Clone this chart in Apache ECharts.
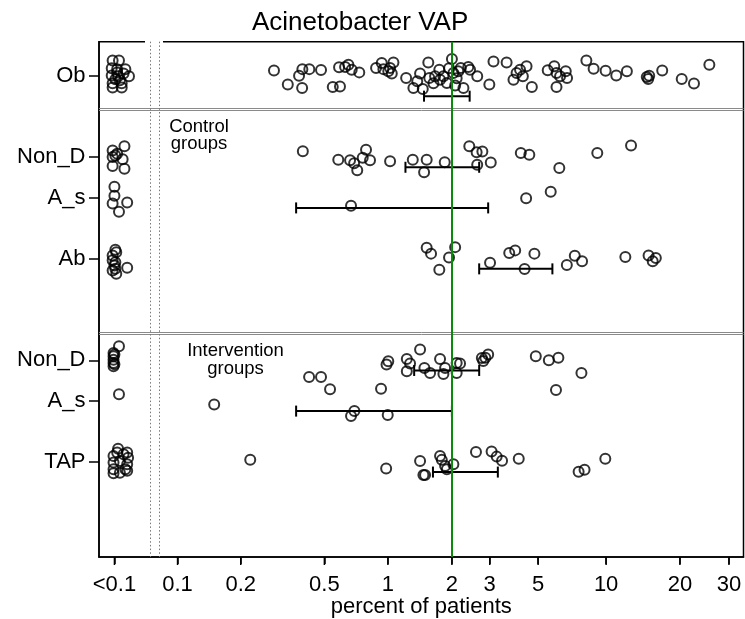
<!DOCTYPE html>
<html><head><meta charset="utf-8">
<script src="https://cdn.jsdelivr.net/npm/echarts@6/dist/echarts.min.js"></script>
<style>html,body{margin:0;padding:0;background:#fff}#c{width:745px;height:619px}</style>
</head><body><div id="c"></div>
<script>
// ---- rows (categories) ----
const rowNames = ['Ob','Non_D','A_s','Ab','Non_D','A_s','TAP'];
const rowPos = [0,4,6,9,14,16,19];

// ---- x axis ticks (percent of patients, logit scale) ----
const xTickPct = [0.05,0.1,0.2,0.5,1,2,3,5,10,20,30];
const xTickLabels = ['<0.1','0.1','0.2','0.5','1','2','3','5','10','20','30'];
const xRangePct = [0.0422, 33.46];
const yRange = [-1.68, 23.68];
const refPct = 2;               // green reference line
const breakPct = [0.074, 0.082]; // axis-break dotted lines
const zeroPct = 0.05;           // where "<0.1" (zero) values are drawn
const panelBreaks = [1.60, 1.70, 12.61, 12.71];

// ---- observed values: [percent, vertical jitter] ----
const obPts = [[0.288,-0.26],[0.335,0.43],[0.379,0.0],[0.393,-0.33],[0.392,0.60],[0.424,-0.33],[0.482,-0.29],[0.587,-0.42],[0.548,0.55],[0.593,0.52],
 [0.627,-0.43],[0.650,-0.55],[0.674,-0.30],[0.732,-0.17],[0.879,-0.38],[0.935,-0.63],[0.952,-0.33],[1.024,-0.38],[1.062,-0.66],[1.043,-0.11],[1.004,-0.22],
 [1.219,0.11],[1.319,0.60],[1.418,-0.11],[1.460,0.65],[1.550,-0.66],[1.567,0.11],[1.668,0.02],[1.746,-0.30],[1.760,0.19],[1.825,0.02],[1.894,0.35],
 [2.00,-0.83],[2.032,-0.14],[2.071,0.48],[2.142,-0.22],[2.200,-0.38],[2.264,0.60],[2.385,-0.43],[2.431,-0.30],[2.625,0.02],[2.987,0.43],[3.122,-0.71],
 [3.589,-0.66],[3.860,0.19],[3.988,-0.14],[4.137,-0.30],[4.430,-0.47],[4.261,0.02],[4.683,0.55],
 [5.525,-0.27],[5.915,-0.47],[6.051,-0.14],[6.277,0.02],[6.656,-0.22],[6.746,0.11],[6.051,0.55],[8.21,-0.76],[8.83,-0.35],[9.95,-0.25],[11.05,-0.02],[12.25,-0.22],
 [14.80,0.06],[15.14,-0.01],[15.0,0.16],[17.07,-0.26],[20.32,0.16],[22.59,0.38],[25.68,-0.55],
 [1.375,0.27],[1.638,0.37],[1.94,-0.37],[2.105,0.12]];
const ctrlNonDPts = [[0.395,-0.29],[0.582,0.13],[0.662,0.16],[0.692,0.30],[0.716,0.65],[0.760,0.03],[0.788,-0.36],[0.823,0.16],[1.024,0.20],[1.310,0.13],[1.523,0.13],[1.481,0.75],
 [1.851,0.25],[2.411,-0.54],[2.608,-0.24],[2.773,-0.28],[2.624,0.37],[3.033,0.26],[4.17,-0.20],[4.56,-0.12],[6.23,0.54],[9.16,-0.20],[12.75,-0.57]];
const ctrlAsPts = [[0.669,0.39],[4.41,0.03],[5.70,-0.29]];
const ctrlAbPts = [[1.523,-0.54],[1.597,-0.25],[2.071,-0.57],[1.939,-0.06],[1.746,0.54],[3.010,0.20],[3.69,-0.28],[3.93,-0.41],[4.81,-0.25],[4.34,0.51],
 [7.30,-0.15],[7.86,0.12],[6.73,0.31],[12.07,-0.08],[15.05,-0.16],[16.10,-0.03],[15.64,0.12]];
const intNonDPts = [[1.418,-0.53],[1.004,0.05],[0.985,0.21],[1.228,-0.06],[1.272,0.16],[1.228,0.54],[1.486,0.38],[1.580,0.62],[1.760,-0.06],[1.859,0.38],[1.825,0.67],
 [2.105,0.13],[2.183,0.16],[2.105,0.62],[2.757,-0.11],[2.862,-0.13],[2.95,-0.29],[2.80,0.03],[4.88,-0.20],[5.59,0.0],[6.17,-0.13],[7.81,0.62],[0.423,0.82],[0.482,0.82]];
const intAsPts = [[0.532,-0.58],[0.928,-0.60],[6.02,-0.54],[0.1495,0.18],[0.694,0.49],[0.669,0.74],[0.998,0.69]];
const tapPts = [[0.222,-0.11],[0.981,0.33],[1.418,-0.05],[1.760,-0.29],[1.793,-0.10],[1.859,0.20],[1.894,0.36],[2.032,0.11],[1.470,0.65],[1.497,0.65],
 [2.59,-0.49],[3.06,-0.51],[3.23,-0.26],[3.42,-0.06],[4.08,-0.16],[9.92,-0.16],[7.59,0.48],[8.06,0.39]];

// ---- zero values (<0.1): [horizontal jitter, vertical jitter] ----
const obZero = [[-0.02,-0.76],[0.05,-0.76],[-0.03,-0.37],[0.03,-0.32],[0.12,-0.32],[0.16,0.02],[-0.03,-0.02],[0.04,0.02],[-0.02,0.37],[0.08,0.37],[-0.02,0.57],[0.08,0.57],[0.01,0.17],[0.10,-0.12],[0.03,-0.17],[0.06,0.22]];
const ctrlNonDZero = [[-0.02,-0.33],[0.01,-0.08],[0.11,-0.53],[-0.02,0],[0.09,0.11],[-0.02,0.44],[0.11,0.57],[0.03,-0.17]];
const ctrlAsZero = [[0,-0.54],[0,-0.10],[-0.02,0.28],[0.14,0.23],[0.05,0.69]];
const ctrlAbZero = [[0.01,-0.44],[-0.02,-0.16],[-0.02,0.08],[0,0.33],[0.01,0.49],[0.02,0.74],[0.14,0.44],[-0.02,0.58],[0.02,-0.32],[0.01,0.17]];
const intNonDZero = [[0.05,-0.69],[-0.01,-0.36],[-0.01,-0.20],[-0.01,-0.03],[-0.01,0.13],[-0.01,0.29],[0,-0.29],[0,0.20]];
const intAsZero = [[0.05,-0.33]];
const tapZero = [[0.04,-0.65],[-0.01,-0.29],[0.10,-0.38],[0.14,-0.46],[0.15,-0.21],[-0.01,0.03],[0.06,-0.05],[0.14,0.11],[-0.01,0.36],[0.12,0.36],[-0.01,0.56],[0.06,0.53],[0.14,0.44],[0.03,-0.46]];

// ---- interval bars ----
const ciLow  = [1.48, 1.21, 0.367, 2.68, 1.33, 0.367, 1.63];
const ciHigh = [2.42, 2.68, 2.95, 5.80, 2.68, 2.00, 3.27];
const ciShift = [1.0, 0.5, 0.5, 0.5, 0.5, 0.5, 0.5];

const groupPts = [obPts, ctrlNonDPts, ctrlAsPts, ctrlAbPts, intNonDPts, intAsPts, tapPts];
const groupZero = [obZero, ctrlNonDZero, ctrlAsZero, ctrlAbZero, intNonDZero, intAsZero, tapZero];

const FONT = 'Liberation Sans, Arial, sans-serif';
function logit(pct){ const p = pct/100; return Math.log(p/(1-p)); }
const xTickVals = xTickPct.map(logit);

const scatterData = [];
groupPts.forEach((pts, i) => pts.forEach(([p, j]) => scatterData.push([logit(p), rowPos[i] + j])));
groupZero.forEach((pts, i) => pts.forEach(([dx, dy]) => scatterData.push([logit(zeroPct) + dx, rowPos[i] + dy])));

const ciData = ciLow.map((lo, i) => [logit(lo), logit(ciHigh[i]), rowPos[i] + ciShift[i]]);

function nearestIdx(arr, v){ let b=0, d=Infinity; arr.forEach((a,i)=>{ const e=Math.abs(a-v); if(e<d){d=e;b=i;} }); return b; }

const chart = echarts.init(document.getElementById('c'), null, {renderer:'canvas'});
chart.setOption({
  animation: false,
  backgroundColor: '#fff',
  title: { text: 'Acinetobacter VAP', left: 252, top: 10, padding: 0,
    textStyle: { fontSize: 26, fontWeight: 'normal', color: '#000', fontFamily: FONT } },
  grid: { left: 99, right: 1.5, top: 41.7, bottom: 62, containLabel: false, outerBoundsMode: 'none',
    show: true, borderColor: '#000', borderWidth: 1.5, backgroundColor: 'transparent' },
  xAxis: {
    type: 'value', min: logit(xRangePct[0]), max: logit(xRangePct[1]), position: 'bottom',
    axisLine: { show: true, onZero: false, lineStyle: { color: '#000', width: 1.5 } }, splitLine: { show: false },
    axisTick: { show: true, inside: false, customValues: xTickVals, length: 7, lineStyle: { color: '#000', width: 1.5 } },
    axisLabel: { customValues: xTickVals, formatter: v => xTickLabels[nearestIdx(xTickVals, v)],
      fontSize: 22, color: '#000', margin: 17, fontFamily: FONT },
    name: 'percent of patients', nameLocation: 'middle', nameGap: 39, nameMoveOverlap: false,
    nameTextStyle: { fontSize: 22, color: '#000', fontFamily: FONT }
  },
  yAxis: {
    type: 'value', inverse: true, min: yRange[0], max: yRange[1], position: 'left',
    axisLine: { show: true, onZero: false, lineStyle: { color: '#000', width: 1.5 } }, splitLine: { show: false },
    axisTick: { show: true, inside: false, customValues: rowPos, length: 10, lineStyle: { color: '#000', width: 1.5 } },
    axisLabel: { customValues: rowPos, formatter: v => rowNames[nearestIdx(rowPos, v)],
      fontSize: 22, color: '#000', margin: 13.5, fontFamily: FONT }
  },
  graphic: [
    { type: 'rect', z: 1, shape: { x: 145, y: 39, width: 18, height: 5 }, style: { fill: '#fff' } },
    { type: 'text', z: 5, x: 199, y: 118, style: { text: 'Control\ngroups', fontSize: 18.5, lineHeight: 17.5,
        align: 'center', verticalAlign: 'top', fill: '#000', fontFamily: FONT } },
    { type: 'text', z: 5, x: 235.5, y: 342.5, style: { text: 'Intervention\ngroups', fontSize: 18.5, lineHeight: 17.5,
        align: 'center', verticalAlign: 'top', fill: '#000', fontFamily: FONT } }
  ],
  series: [
    { type: 'line', data: [], z: 2, silent: true,
      markLine: { silent: true, symbol: 'none', animation: false, label: { show: false },
        data: [
          ...panelBreaks.map(v => ({ yAxis: v, lineStyle: { color: '#8a8a8a', width: 1, type: 'solid' } })),
          ...breakPct.map(p => ({ xAxis: logit(p), lineStyle: { color: '#777', width: 1, type: [1.5, 2.2] } })),
          { xAxis: logit(refPct), lineStyle: { color: '#0a8c0a', width: 2, type: 'solid' } }
        ] } },
    // x-axis tick marks (drawn through the axis scale)
    { type: 'custom', z: 3, silent: true, clip: false,
      encode: { x: 0 },
      data: xTickVals.map(v => [v]),
      renderItem: (params, api) => {
        const p = api.coord([api.value(0), yRange[1]]);
        return { type: 'line', shape: { x1: p[0], y1: p[1], x2: p[0], y2: p[1] + 8 },
          style: { stroke: '#000', lineWidth: 1.5 } };
      } },
    { type: 'custom', z: 3, silent: true,
      encode: { x: [0, 1], y: 2 },
      data: ciData,
      renderItem: (params, api) => {
        const y = api.value(2);
        const a = api.coord([api.value(0), y]);
        const b = api.coord([api.value(1), y]);
        const h = 5.5, st = { stroke: '#000', lineWidth: 2 };
        return { type: 'group', children: [
          { type: 'line', shape: { x1: a[0], y1: a[1], x2: b[0], y2: b[1] }, style: st },
          { type: 'line', shape: { x1: a[0], y1: a[1]-h, x2: a[0], y2: a[1]+h }, style: st },
          { type: 'line', shape: { x1: b[0], y1: b[1]-h, x2: b[0], y2: b[1]+h }, style: st }
        ] };
      } },
    { type: 'scatter', z: 4, silent: true, symbol: 'circle', symbolSize: 10,
      itemStyle: { color: 'rgba(0,0,0,0)', borderColor: '#000', borderWidth: 2 },
      data: scatterData }
  ]
});
</script></body></html>
